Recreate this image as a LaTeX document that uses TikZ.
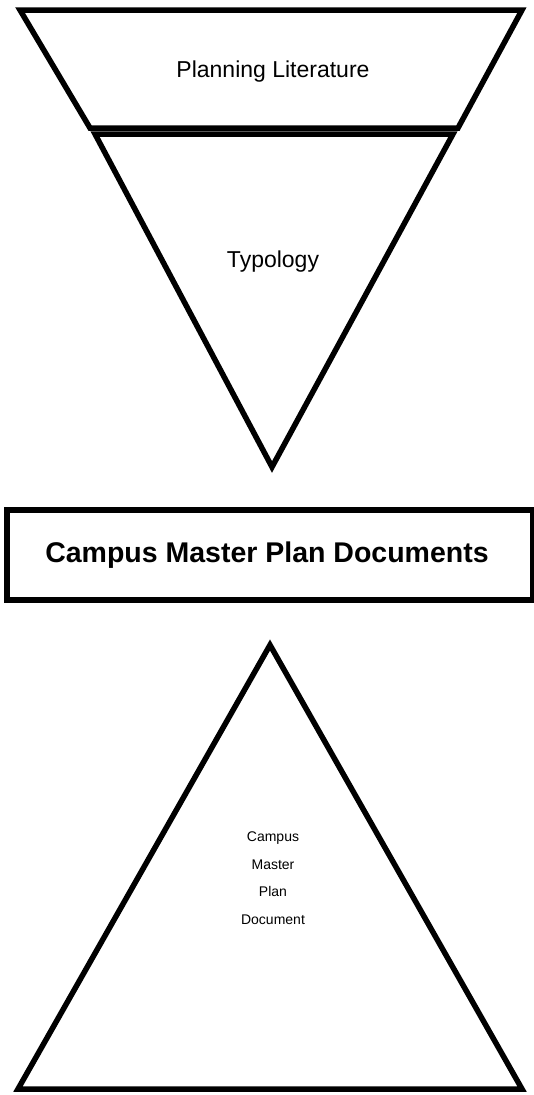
\documentclass[tikz,border=0pt]{standalone}
\usepackage{fontspec}
\setmainfont{Liberation Sans}
\begin{document}
\begin{tikzpicture}[x=1pt,y=-1pt,
  outline/.style={draw=black, line width=5.5pt, line join=miter},
  lbl/.style={font=\fontsize{23}{26}\selectfont, inner sep=0pt},
  boldlbl/.style={font=\bfseries\fontsize{28.5}{32}\selectfont, inner sep=0pt},
  smalllbl/.style={align=center, font=\fontsize{14}{27.5}\selectfont, inner sep=0pt}]
\useasboundingbox (0,0) rectangle (534,1095);
\fill[white] (0,0) rectangle (534,1095);
% top trapezoid
\draw[outline] (20,10) -- (522,10) -- (458,128) -- (90,128) -- cycle;
% inverted triangle
\draw[outline] (95,134) -- (453,134) -- (272,467) -- cycle;
% rectangle
\draw[outline] (7,510) rectangle (533,600);
% upright triangle
\draw[outline] (270,645) -- (522,1089) -- (18,1089) -- cycle;
% labels
\node[lbl] (plan) at (273,72) {Planning Literature};
\node[lbl] (typ) at (273,262) {Typology};
\node[boldlbl] (cmpd) at (267,555) {Campus Master Plan Documents};
\node[smalllbl] (cmp) at (273,878) {Campus\\Master\\Plan\\Document};
\end{tikzpicture}
\end{document}
